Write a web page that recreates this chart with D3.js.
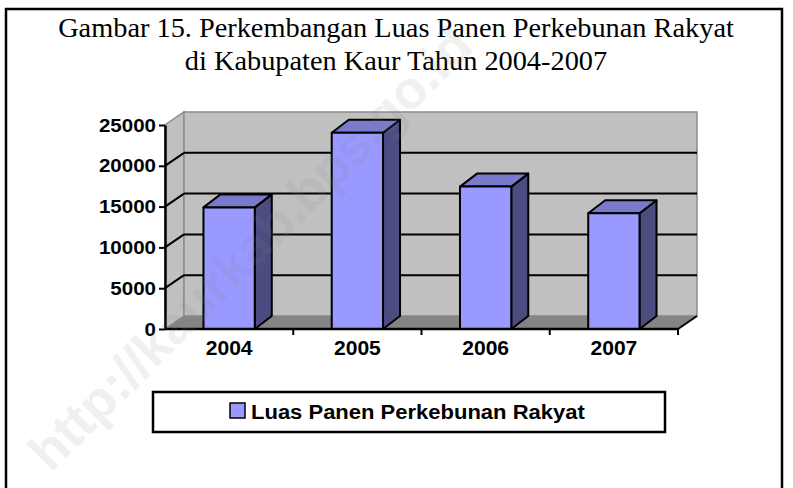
<!DOCTYPE html>
<html>
<head>
<meta charset="utf-8">
<script src="https://cdn.jsdelivr.net/npm/d3@7"></script>
<style>
  body { margin: 0; background: #fff; }
  svg { display: block; }
</style>
</head>
<body>
<div id="chart"></div>
<script>
// data
const years = ['2004', '2005', '2006', '2007'];
const luasPanen = [14900, 24050, 17450, 14180];
const yTicks = [0, 5000, 10000, 15000, 20000, 25000];
const titleLines = ['Gambar 15. Perkembangan Luas Panen Perkebunan Rakyat', 'di Kabupaten Kaur Tahun 2004-2007'];
const seriesName = 'Luas Panen Perkebunan Rakyat';
const watermark = 'http://kaurkab.bps.go.id';

const width = 793, height = 488;
const sans = '"Liberation Sans", Arial, sans-serif';
const serif = '"Liberation Serif", "Times New Roman", serif';

// front plane of the 3d box, plus depth offsets
const plot = {left: 165, right: 678, bottom: 329, top: 125};
const depth = {dx: 19, dy: -13};
const barDepth = {dx: 17, dy: -13};

const colors = {
  wall: '#c0c0c0',
  wallEdge: '#8c8c8c',
  floor: '#848484',
  front: '#9999ff',
  top: '#7a7acc',
  side: '#4c4c80',
};

const svg = d3.select('#chart').append('svg')
  .attr('width', width)
  .attr('height', height);

const y = d3.scaleLinear().domain([0, 25000]).range([plot.bottom, plot.top]);
const x = d3.scaleBand().domain(years)
  .range([plot.left, plot.right])
  .paddingInner(0.6)
  .paddingOuter(0.3);

const line = d3.line();

// stretch text horizontally a bit, the source picture is wider than tall
function stretch(sel, k) {
  sel.each(function() {
    const w = this.getComputedTextLength();
    d3.select(this).attr('textLength', w * k).attr('lengthAdjust', 'spacingAndGlyphs');
  });
}

// outer frame
svg.append('rect')
  .attr('x', 6).attr('y', 9)
  .attr('width', 776).attr('height', 520)
  .attr('fill', 'none')
  .attr('stroke', '#000')
  .attr('stroke-width', 2.5);

// title
svg.append('g').selectAll('text')
  .data(titleLines)
  .join('text')
  .attr('x', 396)
  .attr('y', (d, i) => 37 + i * 33)
  .attr('text-anchor', 'middle')
  .attr('font-family', serif)
  .attr('font-size', 27.5)
  .attr('fill', '#000')
  .text(d => d)
  .call(stretch, 1.03);

// walls and floor
const walls = svg.append('g');
const yb = v => y(v) + depth.dy;
const xb = plot.left + depth.dx;
const xbr = plot.right + depth.dx;

walls.append('path')
  .attr('d', line([[plot.left, y(0)], [xb, yb(0)], [xb, yb(25000)], [plot.left, y(25000)]]) + 'Z')
  .attr('fill', colors.wall)
  .attr('stroke', colors.wallEdge)
  .attr('stroke-width', 1.5);

walls.append('rect')
  .attr('x', xb).attr('y', yb(25000))
  .attr('width', xbr - xb).attr('height', yb(0) - yb(25000))
  .attr('fill', colors.wall)
  .attr('stroke', colors.wallEdge)
  .attr('stroke-width', 1.5);

walls.append('path')
  .attr('d', line([[plot.left, y(0)], [plot.right, y(0)], [xbr, yb(0)], [xb, yb(0)]]) + 'Z')
  .attr('fill', colors.floor)
  .attr('stroke', colors.wallEdge)
  .attr('stroke-width', 1);

// gridlines on back wall and side wall
const grid = yTicks.filter(v => v > 0 && v < 25000);
walls.selectAll('line.grid_back')
  .data(grid)
  .join('line')
  .attr('class', 'grid_back')
  .attr('x1', xb).attr('x2', xbr)
  .attr('y1', yb).attr('y2', yb)
  .attr('stroke', '#000')
  .attr('stroke-width', 2);

walls.selectAll('line.grid_side')
  .data(grid)
  .join('line')
  .attr('class', 'grid_side')
  .attr('x1', plot.left).attr('x2', xb)
  .attr('y1', y).attr('y2', yb)
  .attr('stroke', '#000')
  .attr('stroke-width', 2);

// floor right edge
walls.append('line')
  .attr('x1', plot.right).attr('y1', y(0))
  .attr('x2', xbr).attr('y2', yb(0))
  .attr('stroke', '#000')
  .attr('stroke-width', 2);

// bars
const bw = x.bandwidth();
const bars = svg.append('g')
  .selectAll('g.bar')
  .data(years.map((yr, i) => ({yr, v: luasPanen[i]})))
  .join('g')
  .attr('class', 'bar')
  .attr('stroke', '#000')
  .attr('stroke-width', 2)
  .attr('stroke-linejoin', 'round');

bars.append('path')
  .attr('fill', colors.side)
  .attr('d', d => {
    const x1 = x(d.yr) + bw, t = y(d.v), b = y(0);
    return line([[x1, t], [x1 + barDepth.dx, t + barDepth.dy], [x1 + barDepth.dx, b + barDepth.dy], [x1, b]]) + 'Z';
  });

bars.append('path')
  .attr('fill', colors.top)
  .attr('d', d => {
    const x0 = x(d.yr), t = y(d.v);
    return line([[x0, t], [x0 + barDepth.dx, t + barDepth.dy], [x0 + bw + barDepth.dx, t + barDepth.dy], [x0 + bw, t]]) + 'Z';
  });

bars.append('rect')
  .attr('fill', colors.front)
  .attr('x', d => x(d.yr))
  .attr('y', d => y(d.v))
  .attr('width', bw)
  .attr('height', d => y(0) - y(d.v));

// y axis
const yAxis = svg.append('g')
  .attr('transform', `translate(${plot.left},0)`)
  .call(d3.axisLeft(y).tickValues(yTicks).tickFormat(d3.format('d'))
    .tickSize(6).tickSizeOuter(0).tickPadding(3));
yAxis.select('.domain').attr('stroke', '#000').attr('stroke-width', 2.5);
yAxis.selectAll('.tick line').attr('stroke', '#000').attr('stroke-width', 2);
yAxis.selectAll('.tick text')
  .attr('font-family', sans)
  .attr('font-weight', 'bold')
  .attr('font-size', 19)
  .attr('fill', '#000')
  .call(stretch, 1.08);

// x axis: labels centred on bands, ticks on band edges
const xAxis = svg.append('g')
  .attr('transform', `translate(0,${plot.bottom})`)
  .call(d3.axisBottom(x).tickSize(0).tickPadding(12));
xAxis.select('.domain').remove();
xAxis.append('line')
  .attr('x1', plot.left).attr('x2', plot.right)
  .attr('stroke', '#000').attr('stroke-width', 2.5);
const step = x.step();
const edges = d3.range(years.length + 1).map(i => plot.left + i * step);
xAxis.selectAll('line.edge')
  .data(edges.slice(1))
  .join('line')
  .attr('class', 'edge')
  .attr('x1', d => d).attr('x2', d => d)
  .attr('y1', 0).attr('y2', 6)
  .attr('stroke', '#000').attr('stroke-width', 2);
xAxis.selectAll('.tick text')
  .attr('font-family', sans)
  .attr('font-weight', 'bold')
  .attr('font-size', 19.5)
  .attr('fill', '#000')
  .call(stretch, 1.08);

// legend
const legend = svg.append('g');
legend.append('rect')
  .attr('x', 153).attr('y', 392)
  .attr('width', 512).attr('height', 40)
  .attr('fill', '#fff')
  .attr('stroke', '#000')
  .attr('stroke-width', 2.5);
legend.append('rect')
  .attr('x', 230).attr('y', 403)
  .attr('width', 15).attr('height', 15)
  .attr('fill', colors.front)
  .attr('stroke', '#000')
  .attr('stroke-width', 1.5);
legend.append('text')
  .attr('x', 251).attr('y', 419)
  .attr('font-family', sans)
  .attr('font-weight', 'bold')
  .attr('font-size', 20)
  .attr('fill', '#000')
  .text(seriesName)
  .call(stretch, 1.1);

// faint watermark across the picture, kept inside the frame
svg.append('text')
  .attr('transform', 'translate(250,248) rotate(-45)')
  .attr('text-anchor', 'middle')
  .attr('dy', '0.35em')
  .attr('font-family', sans)
  .attr('font-weight', 'bold')
  .attr('font-size', 53)
  .attr('fill', '#888')
  .attr('opacity', 0.12)
  .text(watermark);
</script>
</body>
</html>
